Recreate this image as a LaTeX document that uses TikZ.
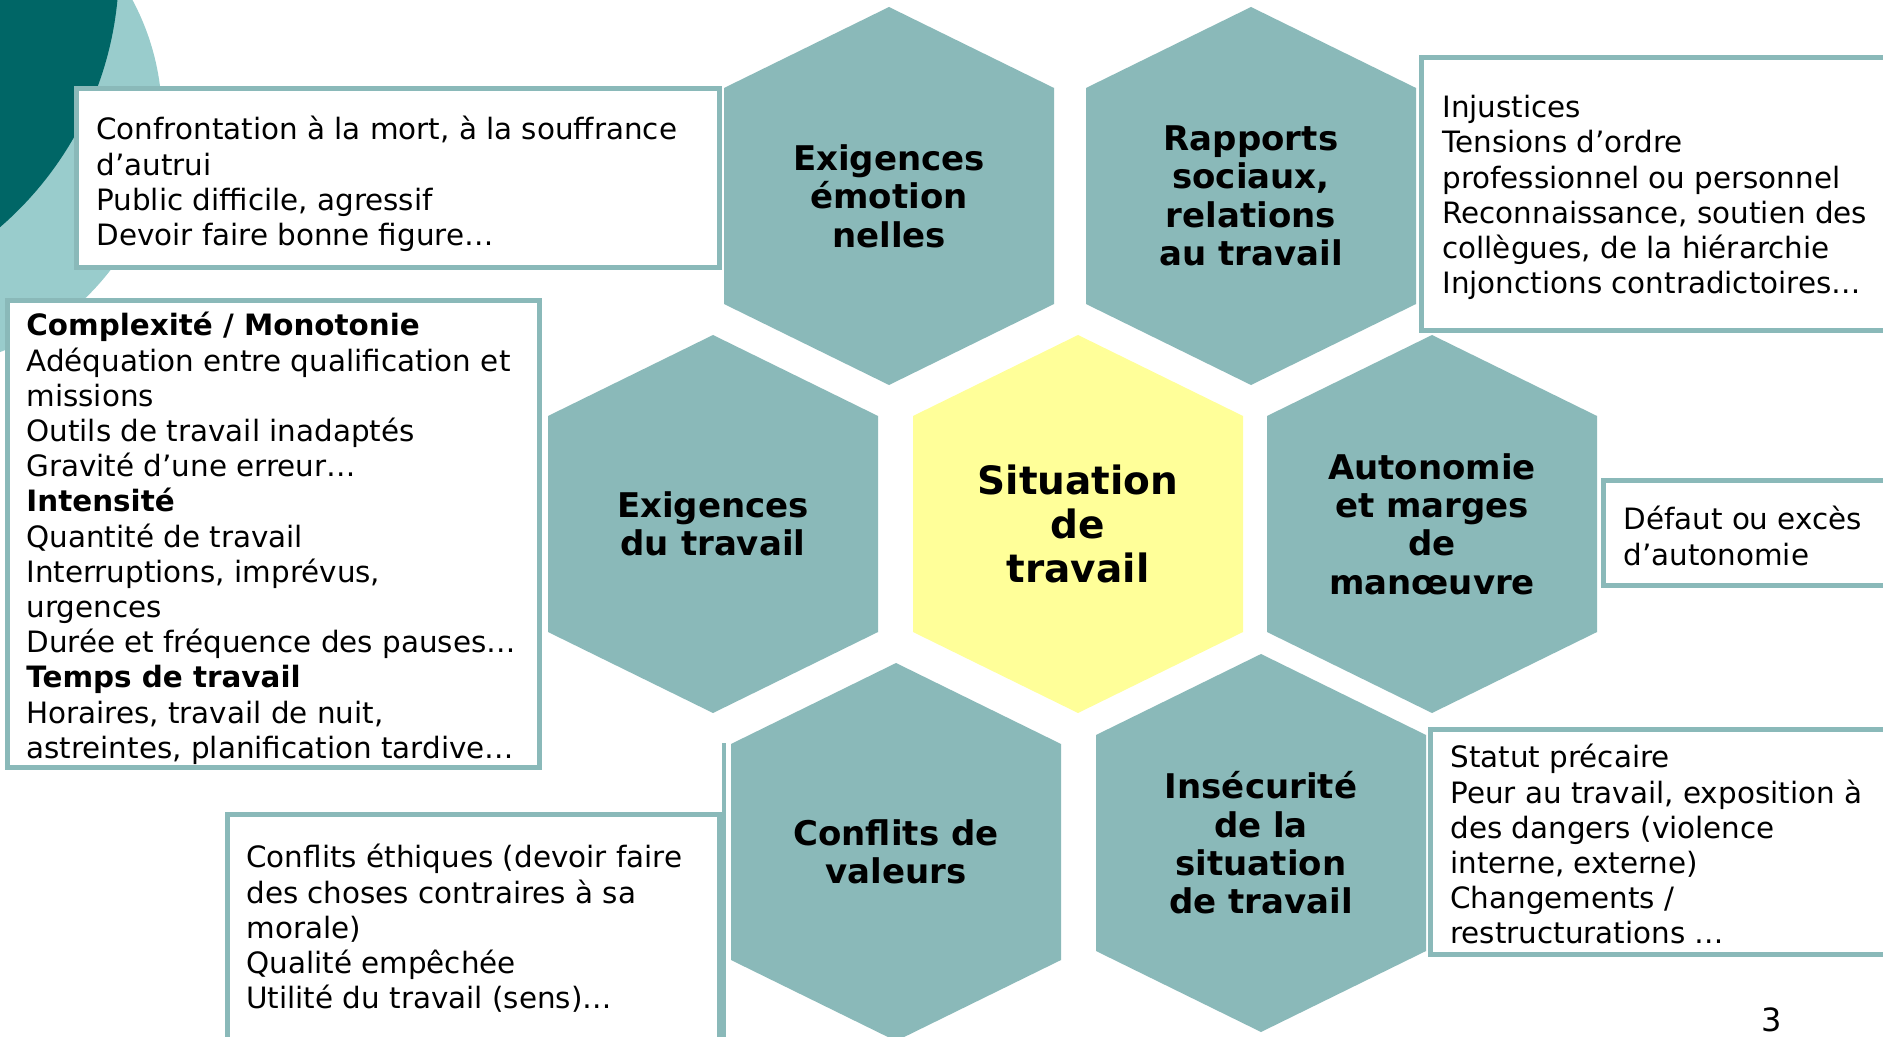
\documentclass[tikz,border=0pt]{standalone}
\usepackage{fontspec}
\setmainfont{DejaVu Sans}
\definecolor{hexteal}{RGB}{138,185,185}
\definecolor{hexyellow}{RGB}{255,255,153}
\definecolor{darkcirc}{RGB}{0,102,102}
\definecolor{lightcirc}{RGB}{153,204,204}
\begin{document}
\begin{tikzpicture}[x=0.5pt,y=-0.5pt,
  hexpath/.style={insert path={++(0,-189) -- ++(165,81) -- ++(0,216) -- ++(-165,81) -- ++(-165,-81) -- ++(0,-216) -- cycle}},
  boxline/.style={draw=hexteal,fill=white,line width=2.5pt},
  boxtext/.style={anchor=north west,inner sep=0pt,align=left,font=\fontsize{14.7}{17.6}\selectfont},
  hexlabel/.style={inner sep=0pt,align=center,font=\fontsize{17}{19.2}\selectfont\bfseries}]
\useasboundingbox (0,0) rectangle (1883,1037);
\clip (0,0) rectangle (1883,1037);
\fill[white] (0,0) rectangle (1883,1037);

% circles in the corner
\fill[lightcirc] (-88,118) circle[radius=250];
\fill[darkcirc] (-225,-33) circle[radius=344];

% hexagons
\fill[hexteal] (889,196) [hexpath];
\fill[hexteal] (1251,196) [hexpath];
\fill[hexteal] (713,524) [hexpath];
\fill[hexyellow] (1078,524) [hexpath];
\fill[hexteal] (1432,524) [hexpath];
\fill[hexteal] (896,852) [hexpath];
\fill[hexteal] (1261,843) [hexpath];

\node[hexlabel] (emo) at (889,196) {Exigences\\émotion\\nelles};
\node[hexlabel] (rapports) at (1251,196) {Rapports\\sociaux,\\relations\\au travail};
\node[hexlabel] (exig) at (713,524) {Exigences\\du travail};
\node[hexlabel,font=\fontsize{19.5}{22}\selectfont\bfseries] (situation) at (1078,524) {Situation\\de\\travail};
\node[hexlabel] (autonomie) at (1432,524) {Autonomie\\et marges\\de\\manœuvre};
\node[hexlabel] (valeurs) at (896,852) {Conflits de\\valeurs};
\node[hexlabel] (insecu) at (1261,843) {Insécurité\\de la\\situation\\de travail};

% text boxes
\draw[boxline] (76.5,88.5) rectangle (719.5,267.5);
\node[boxtext] (mort) at (96,116) {Confrontation à la mort, à la souffrance\\d’autrui\\Public difficile, agressif\\Devoir faire bonne figure…};

\draw[boxline] (1421.5,57.5) rectangle (1895,330.5);
\node[boxtext] (injust) at (1442,95) {Injustices\\Tensions d’ordre\\professionnel ou personnel\\Reconnaissance, soutien des\\collègues, de la hiérarchie\\Injonctions contradictoires…};

\draw[boxline] (7.5,300.5) rectangle (539.5,767.5);
\node[boxtext] (complex) at (26,312) {\textbf{Complexité / Monotonie}\\Adéquation entre qualification et\\missions\\Outils de travail inadaptés\\Gravité d’une erreur…\\\textbf{Intensité}\\Quantité de travail\\Interruptions, imprévus,\\urgences\\Durée et fréquence des pauses…\\\textbf{Temps de travail}\\Horaires, travail de nuit,\\astreintes, planification tardive…};

\draw[boxline] (1603.5,480.5) rectangle (1895,585.5);
\node[boxtext] (defaut) at (1623,506) {Défaut ou excès\\d’autonomie};

\draw[boxline] (1430.5,729.5) rectangle (1895,954.5);
\node[boxtext] (statut) at (1450,744) {Statut précaire\\Peur au travail, exposition à\\des dangers (violence\\interne, externe)\\Changements /\\restructurations …};

\draw[boxline] (227.5,814.5) rectangle (719.5,1045);
\node[boxtext] (ethique) at (246,844) {Conflits éthiques (devoir faire\\des choses contraires à sa\\morale)\\Qualité empêchée\\Utilité du travail (sens)…};
\draw[hexteal,line width=2pt] (724,743) -- (724,1040);

\node[font=\fontsize{16}{18}\selectfont] (pagenum) at (1772,1020) {3};
\end{tikzpicture}
\end{document}
